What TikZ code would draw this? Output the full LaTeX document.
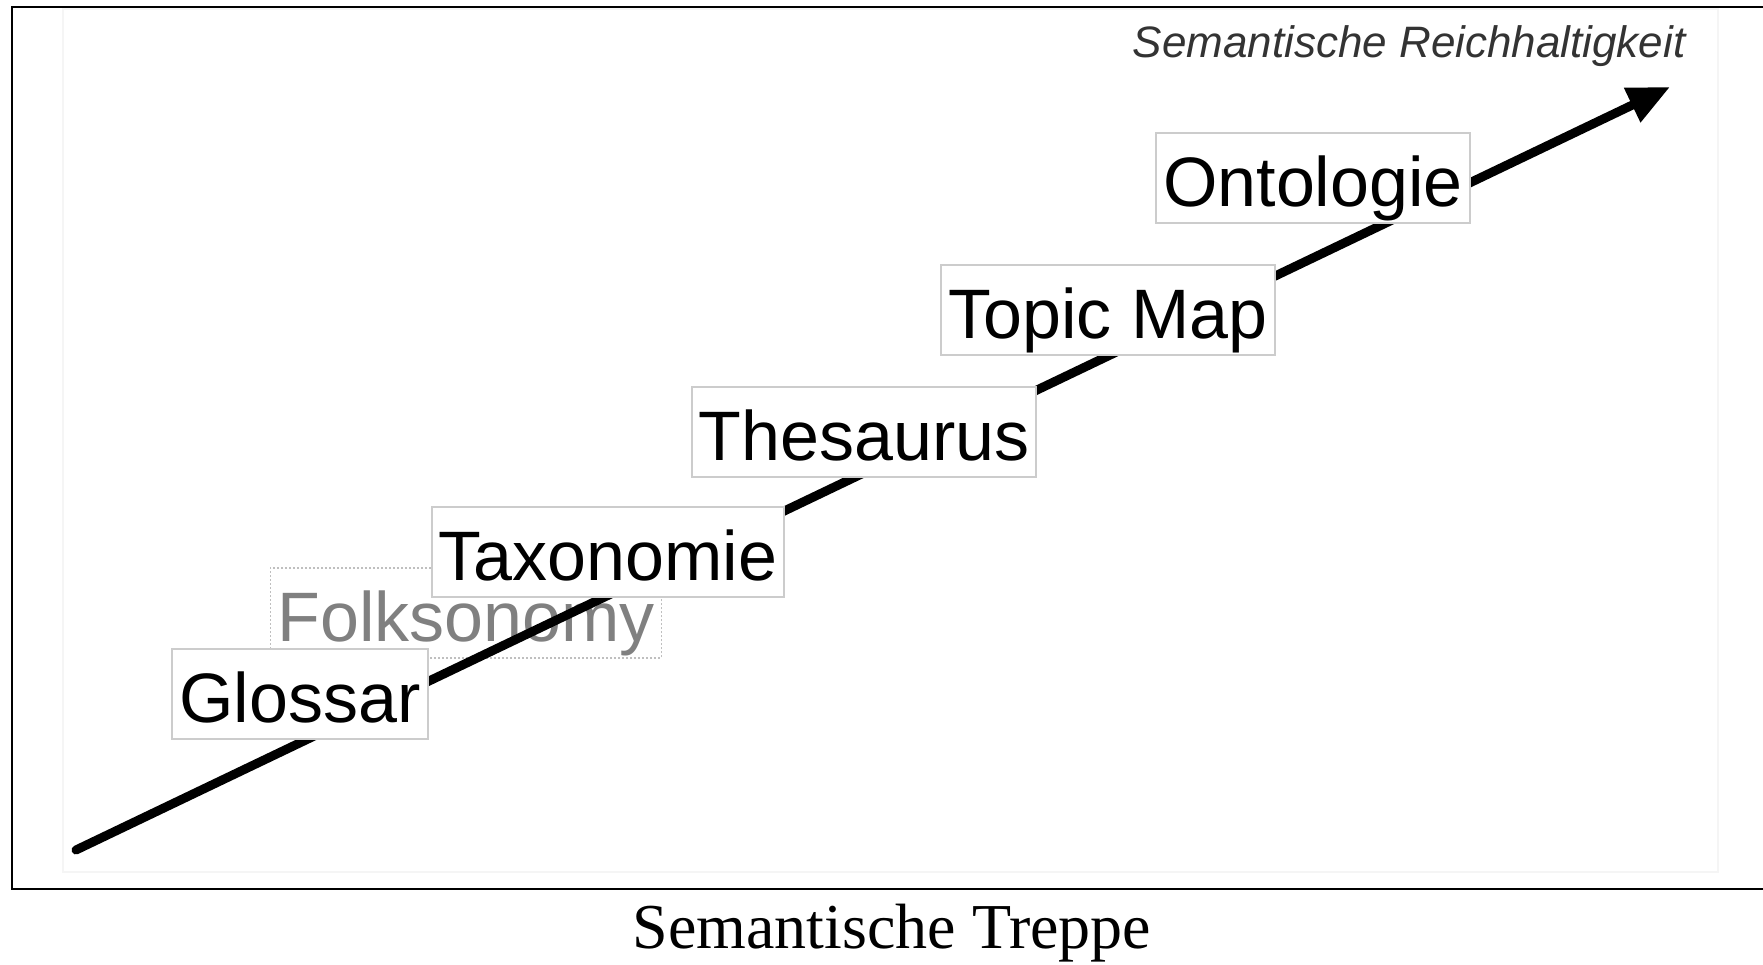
\documentclass[tikz,border=0pt]{standalone}
\usepackage{fontspec}
\setmainfont{Liberation Serif}
\setsansfont{Liberation Sans}
\usetikzlibrary{arrows.meta}
\begin{document}
\begin{tikzpicture}[x=1pt,y=-1pt,
  begriff/.style={draw=black!20,line width=2pt,fill=white,inner xsep=7pt,
    minimum height=90pt,text height=56pt,text depth=0pt,
    font=\sffamily\fontsize{70}{80}\selectfont},
  folk/.style={begriff,draw=black!25,dotted,line width=1.5pt,fill=none,text=black!50}]
  \useasboundingbox (0,0) rectangle (1763,964);
  % Rahmen und Bildflaeche
  \draw[line width=2.5pt] (1770,7) -- (12,7) -- (12,889) -- (1770,889);
  \draw[black!4,line width=1.5pt] (63,9) rectangle (1718,872);
  \node[folk] (folk) at (466,613) {Folksonomy};
  % Pfeil
  \coordinate (start) at (76,850);
  \coordinate (ziel) at (1670,87);
  \draw[line width=9pt,line cap=round,-{Triangle[length=42pt,width=36pt]}] (start) -- (ziel);
  \node[anchor=base east,font=\sffamily\itshape\fontsize{44}{50}\selectfont,text=black!80]
    (achse) at (1689,57) {Semantische Reichhaltigkeit};
  % Stufen
  \node[begriff] (glossar) at (300,694) {Glossar};
  \node[begriff] (taxo) at (608,552) {Taxonomie};
  \node[begriff] (thes) at (864,432) {Thesaurus};
  \node[begriff] (topic) at (1108,310) {Topic Map};
  \node[begriff] (onto) at (1313,178) {Ontologie};
  \node[anchor=base,font=\fontsize{64}{70}\selectfont] (titel) at (892,948) {Semantische Treppe};
\end{tikzpicture}
\end{document}
